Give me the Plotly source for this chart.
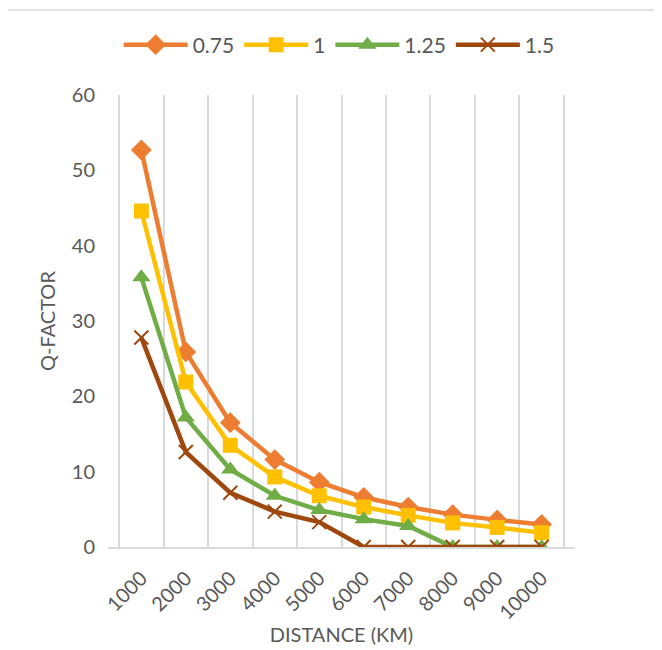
import plotly.graph_objects as go

distance = ["1000", "2000", "3000", "4000", "5000", "6000", "7000", "8000", "9000", "10000"]
q_075 = [52.7, 25.9, 16.5, 11.6, 8.6, 6.6, 5.3, 4.3, 3.6, 3.0]
q_100 = [44.6, 21.9, 13.5, 9.3, 6.8, 5.3, 4.2, 3.2, 2.6, 1.9]
q_125 = [35.8, 17.2, 10.3, 6.8, 4.9, 3.7, 2.8, 0, 0, 0]
q_150 = [27.8, 12.6, 7.2, 4.7, 3.3, 0, 0, 0, 0, 0]

series = [
    ("0.75", q_075, "#ED7D31", "diamond", 16),
    ("1", q_100, "#FFC000", "square", 15),
    ("1.25", q_125, "#70AD47", "triangle-up", 16),
    ("1.5", q_150, "#9E480E", "x-thin", 14),
]

fig = go.Figure()
for name, vals, color, sym, size in series:
    marker = dict(symbol=sym, size=size, color=color)
    if sym == "x-thin":
        marker["line"] = dict(color=color, width=2)
    fig.add_trace(go.Scatter(
        x=distance, y=vals, name=name, mode="lines+markers",
        line=dict(color=color, width=4.5), marker=marker,
    ))

font_family = "Lato, 'Open Sans', sans-serif"
txt = "#595959"
fig.update_layout(
    width=662, height=650,
    margin=dict(l=100, r=95, t=87, b=111, autoexpand=False),
    paper_bgcolor="white", plot_bgcolor="white",
    font=dict(family=font_family, size=20, color=txt),
    showlegend=True,
    legend=dict(orientation="h", x=0.495, xanchor="center",
                y=(547 - 45) / 452, yanchor="middle",
                font=dict(size=21, color=txt), itemwidth=64,
                traceorder="normal"),
    xaxis=dict(type="category", tickson="boundaries", showgrid=True,
               gridcolor="#D9D9D9", gridwidth=1.5, showline=True,
               linecolor="#D9D9D9", linewidth=1.5, ticks="", tickangle=-45,
               automargin=False, ticklabelstandoff=10,
               tickfont=dict(size=20, color=txt),
               title=dict(text="DISTANCE (KM)", font=dict(size=20, color=txt), standoff=5)),
    yaxis=dict(range=[0, 60], dtick=10, showgrid=False, zeroline=False,
               showline=False, ticks="", automargin=False,
               ticklabelstandoff=12,
               tickfont=dict(size=20, color=txt),
               title=dict(text="Q-FACTOR", font=dict(size=20, color=txt), standoff=10)),
)

fig.add_shape(type="rect", xref="paper", yref="paper",
              x0=(12 - 119) / 444, x1=(660 - 119) / 444,
              y0=(547 - 660) / 452, y1=(547 - 10) / 452,
              line=dict(color="#D9D9D9", width=1.5))

fig.write_html("out.html")
